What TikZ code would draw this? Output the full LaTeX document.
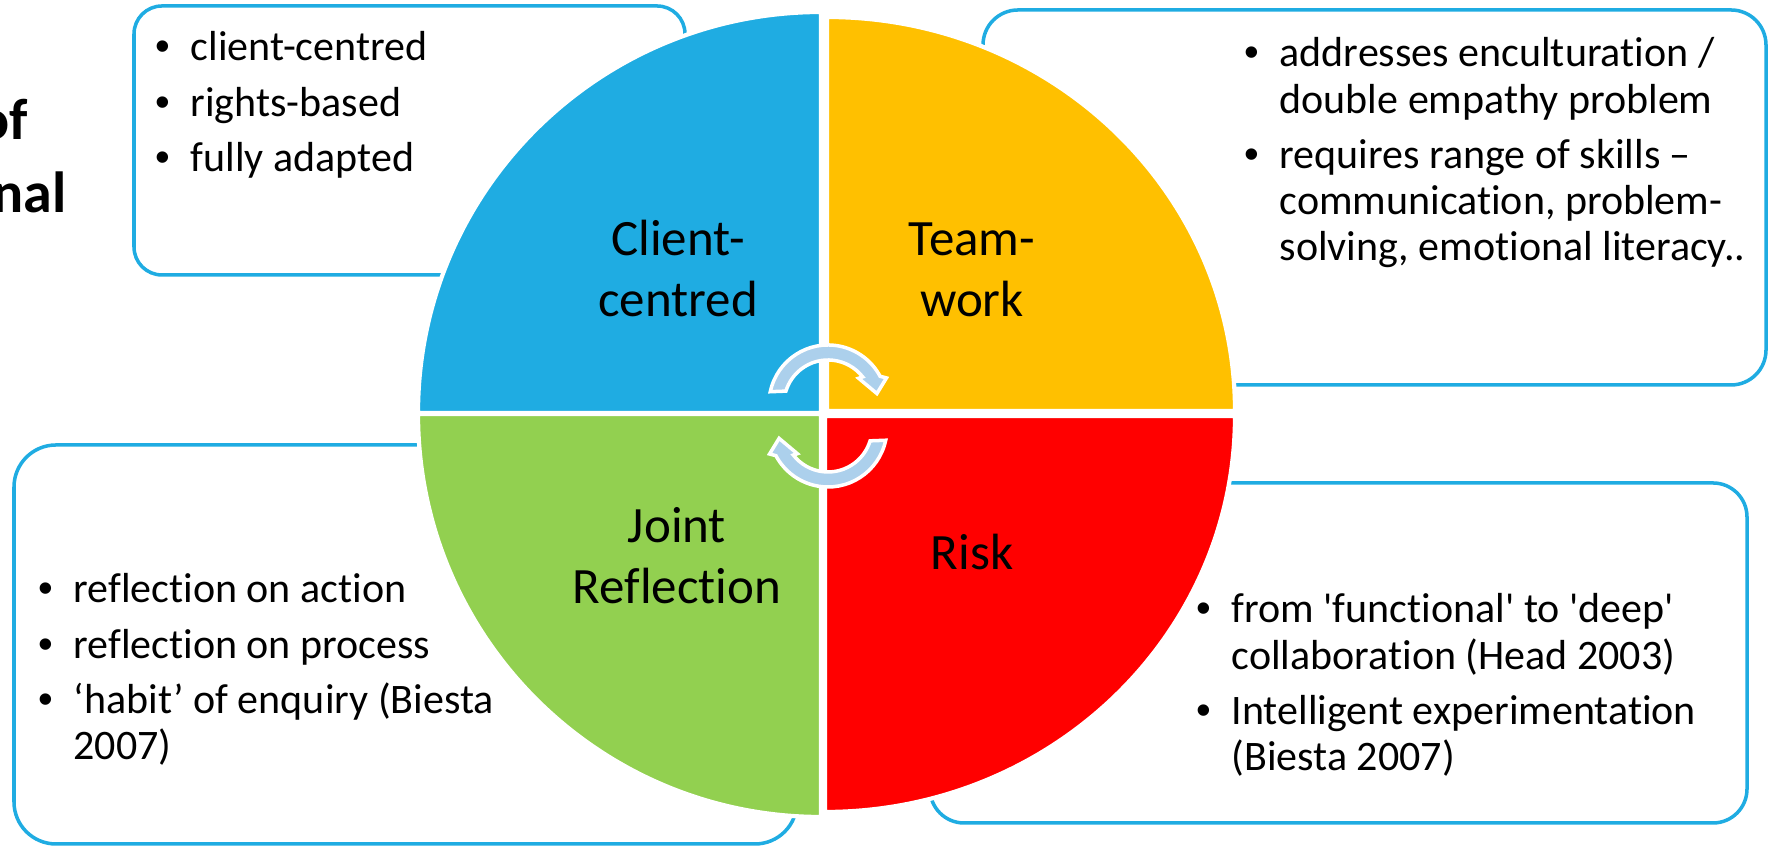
\documentclass[tikz,border=0pt]{standalone}
\usepackage{fontspec}
\setmainfont{Carlito}[Ligatures={TeX,NoCommon}]
\newfontfamily\bulfont{Liberation Sans}
\usepackage{tikz}

\definecolor{clientblue}{RGB}{31,172,226}
\definecolor{teamyellow}{RGB}{255,192,0}
\definecolor{reflectgreen}{RGB}{146,208,80}
\definecolor{riskred}{RGB}{255,0,0}
\definecolor{cyclefill}{RGB}{172,208,236}

% bulleted lines with a hanging indent
\newlength{\bulsep}\setlength{\bulsep}{0.35cm}
\newcommand{\bitem}[1]{\par\hangindent=\bulsep\hangafter=1\noindent\makebox[\bulsep][l]{\bulfont\textbullet}#1}
\newcommand{\bullist}[1]{\parbox[t]{8cm}{\fontsize{11.95}{13.1}\selectfont\setlength{\parskip}{2.6pt}#1}}
\newcommand{\quadname}[1]{\parbox[t]{4cm}{\centering\fontsize{14.5}{17.3}\selectfont #1}}

\tikzset{
  infobox/.style={draw=clientblue,line width=1pt},
  quarter/.style={draw=white,line width=1.2pt},
  cyclearrow/.style={fill=cyclefill,draw=white,line width=1pt},
  listtext/.style={anchor=base west,inner sep=0pt},
  nametext/.style={anchor=base,inner sep=0pt},
  titlebit/.style={anchor=base east,inner sep=0pt,font=\fontsize{16.5}{20}\selectfont\bfseries}
}

\begin{document}
\begin{tikzpicture}
\useasboundingbox (0,0) rectangle (17.69,8.47);
\clip (0,0) rectangle (17.69,8.47);

% title running in from the left
\node[titlebit] (titleof) at (0.29,7.07) {of};
\node[titlebit] (titlenal) at (0.67,6.34) {nal};

% boxes behind the circle
\draw[infobox,rounded corners=0.28cm] (1.34,5.72) rectangle (6.85,8.41);
\draw[infobox,rounded corners=0.35cm] (9.83,4.62) rectangle (17.66,8.37);
\draw[infobox,rounded corners=0.42cm] (0.14,0.03) rectangle (7.97,4.02);
\draw[infobox,rounded corners=0.34cm] (9.30,0.24) rectangle (17.47,3.64);

% four quarters
\path[quarter,fill=clientblue] (8.21,4.34) -- (4.18,4.34) arc[start angle=180,end angle=90,x radius=4.03,y radius=4.01] -- cycle;
\path[quarter,fill=teamyellow] (8.27,4.36) -- (8.27,8.30) arc[start angle=90,end angle=0,x radius=4.08,y radius=3.94] -- cycle;
\path[quarter,fill=reflectgreen] (8.21,4.33) -- (8.21,0.30) arc[start angle=270,end angle=180,x radius=4.03,y radius=4.03] -- cycle;
\path[quarter,fill=riskred] (8.25,4.31) -- (12.35,4.31) arc[start angle=0,end angle=-90,x radius=4.10,y radius=3.96] -- cycle;

% turning arrows in the middle
\begin{scope}[shift={(8.28,4.43)}]
\draw[cyclearrow] (168:0.59) arc[start angle=168,end angle=28,radius=0.59] -- (24:0.64) -- (12:0.50) -- (40:0.40) -- (38:0.44) arc[start angle=38,end angle=163,radius=0.44] -- cycle;
\end{scope}
\begin{scope}[shift={(8.28,4.19)},rotate=180]
\draw[cyclearrow] (168:0.59) arc[start angle=168,end angle=28,radius=0.59] -- (24:0.64) -- (12:0.50) -- (40:0.40) -- (38:0.44) arc[start angle=38,end angle=163,radius=0.44] -- cycle;
\end{scope}

% names of the quarters
\node[nametext] (clientname) at (6.78,5.91) {\quadname{Client-\\centred}};
\node[nametext] (teamname) at (9.72,5.91) {\quadname{Team-\\work}};
\node[nametext] (reflectname) at (6.77,3.04) {\quadname{Joint\\Reflection}};
\node[nametext] (riskname) at (9.72,2.77) {\quadname{Risk}};

% bullet lists
\node[listtext] (clientlist) at (1.55,7.86) {\bullist{\bitem{client-centred}\bitem{rights-based}\bitem{fully adapted}}};
\node[listtext] (teamlist) at (12.44,7.80) {\bullist{\bitem{addresses enculturation /\\double empathy problem}\bitem{requires range of skills --\\communication, problem-\\solving, emotional literacy..}}};
\node[listtext] (reflectlist) at (0.38,2.44) {\bullist{\bitem{reflection on action}\bitem{reflection on process}\bitem{‘habit’ of enquiry (Biesta\\2007)}}};
\node[listtext] (risklist) at (11.96,2.24) {\bullist{\bitem{from \textquotesingle functional\textquotesingle{} to \textquotesingle deep\textquotesingle\\collaboration (Head 2003)}\bitem{Intelligent experimentation\\(Biesta 2007)}}};
\end{tikzpicture}
\end{document}
